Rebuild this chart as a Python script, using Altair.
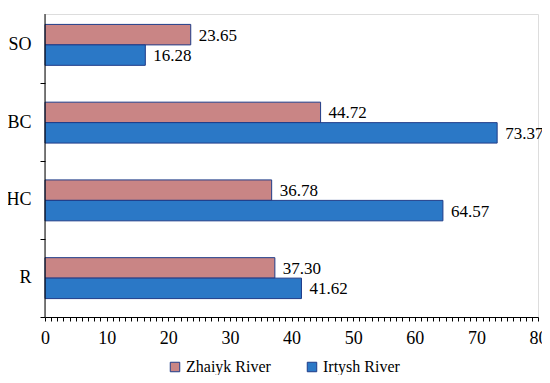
import altair as alt
import pandas as pd

categories = ["SO", "BC", "HC", "R"]
rivers = ["Zhaiyk River", "Irtysh River"]
zhaiyk = [23.65, 44.72, 36.78, 37.30]
irtysh = [16.28, 73.37, 64.57, 41.62]
x_ticks = list(range(0, 81))

rows = []
for c, z, i in zip(categories, zhaiyk, irtysh):
    rows.append({"cat": c, "river": rivers[0], "value": z})
    rows.append({"cat": c, "river": rivers[1], "value": i})
df = pd.DataFrame(rows)

FONT = "'Liberation Serif', 'Times New Roman', 'DejaVu Serif', serif"
NAVY = "#1f3c88"
W, H = 493, 303

base = alt.Chart(df).encode(
    y=alt.Y(
        "cat:N",
        sort=categories,
        scale=alt.Scale(range=[-8, H], paddingInner=0, paddingOuter=0),
        axis=alt.Axis(
            title=None,
            bandPosition=1,
            domain=False,
            tickSize=5,
            tickColor="black",
            labelPadding=9,
            labelFont=FONT,
            labelFontSize=18,
            labelColor="black",
        ),
    ),
    yOffset=alt.YOffset(
        "river:N", sort=rivers, scale=alt.Scale(paddingInner=0, paddingOuter=0.9)
    ),
    x=alt.X(
        "value:Q",
        scale=alt.Scale(domain=[0, 80], nice=False),
        axis=alt.Axis(
            title=None,
            values=x_ticks,
            tickCount=200,
            labelExpr="datum.value % 10 === 0 ? format(datum.value, 'd') : ''",
            labelOverlap=False,
            labelFlush=False,
            tickSize=4,
            tickColor="black",
            domainColor="black",
            grid=False,
            labelPadding=8,
            labelFont=FONT,
            labelFontSize=18,
            labelColor="black",
        ),
    ),
)

bars = base.mark_bar(stroke=NAVY, strokeWidth=1).encode(
    color=alt.Color(
        "river:N",
        sort=rivers,
        scale=alt.Scale(domain=rivers, range=["#c98585", "#2b78c6"]),
        legend=alt.Legend(
            title=None,
            orient="none",
            direction="horizontal",
            legendX=122,
            legendY=345,
            padding=0,
            symbolType="square",
            symbolSize=90,
            symbolStrokeColor=NAVY,
            symbolStrokeWidth=1,
            labelFont=FONT,
            labelFontSize=16,
            labelColor="black",
            labelOffset=3,
            columnPadding=33,
        ),
    )
)

labels = base.mark_text(
    align="left", baseline="middle", dx=8, dy=1, font=FONT, fontSize=17, color="black"
).encode(text=alt.Text("value:Q", format=".2f"))

yline = alt.Chart(pd.DataFrame({"v": [0]})).mark_rule(color="black", strokeWidth=1).encode(
    x=alt.datum(0), y=alt.value(0), y2=alt.value(H)
)

chart = (
    alt.layer(bars, labels, yline)
    .properties(
        width=W,
        height=H,
        autosize=alt.AutoSizeParams(type="none"),
        padding={"left": 37, "top": 6, "right": 4, "bottom": 58},
    )
    .configure_view(stroke=None)
    .configure(background="white")
)

chart.save("out.html", embed_options={"renderer": "svg", "actions": False})
